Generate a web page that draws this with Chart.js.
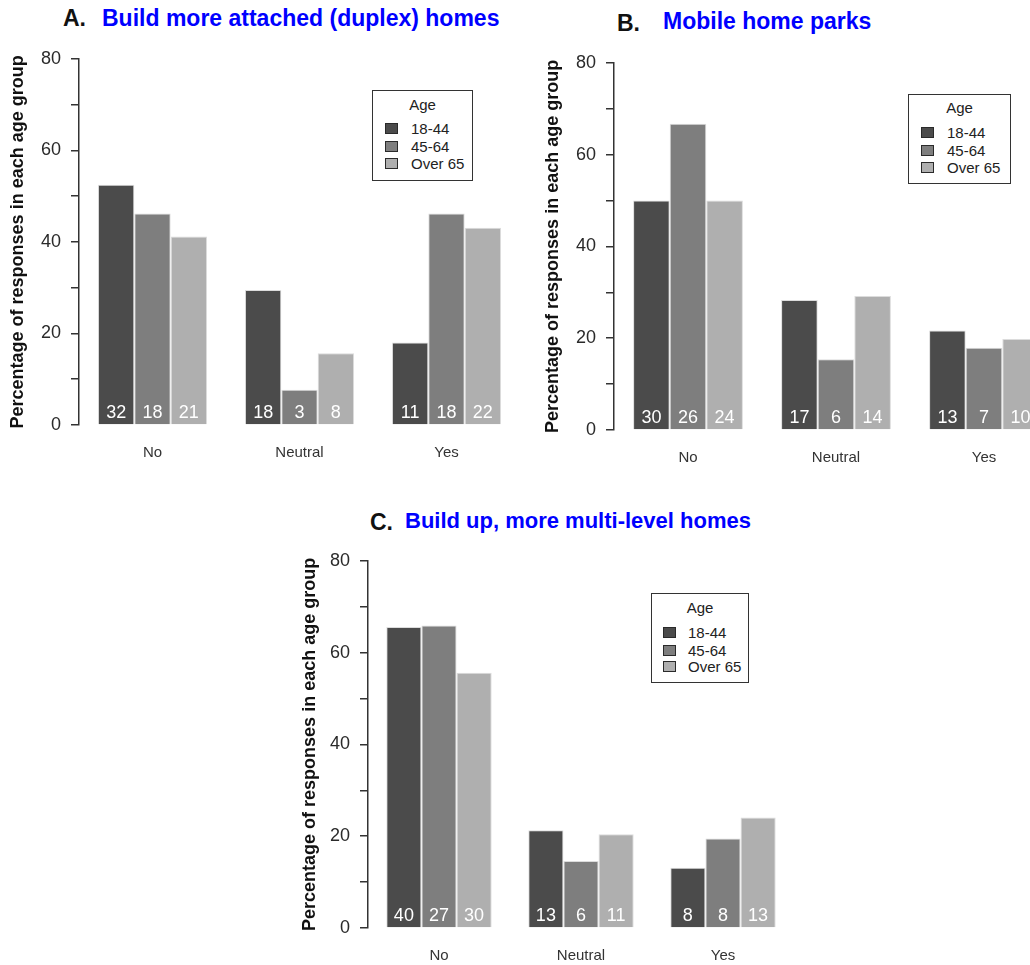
<!DOCTYPE html>
<html>
<head>
<meta charset="utf-8">
<script src="https://cdn.jsdelivr.net/npm/chart.js@4.4.1/dist/chart.umd.min.js"></script>
<style>
html,body{margin:0;padding:0;background:#fff;}
#page{position:relative;width:1030px;height:965px;overflow:hidden;background:#fff;font-family:"Liberation Sans",Arial,Helvetica,sans-serif;}
.ttl{position:absolute;white-space:nowrap;font-weight:bold;line-height:1;}
.lg{position:absolute;border:1.5px solid #333;box-sizing:border-box;background:#fff;color:#222;}
.lg .t{position:absolute;left:0;right:0;text-align:center;font-size:15px;line-height:1;}
.lg .sq{position:absolute;width:13px;height:11px;border:1px solid #2a2a2a;box-sizing:border-box;}
.lg .lb{position:absolute;font-size:15px;line-height:1;white-space:nowrap;}
canvas{position:absolute;}
</style>
</head>
<body>
<div id="page">
  <span class="ttl" style="left:63px;top:7px;font-size:23px;color:#111;">A.</span>
  <span class="ttl" style="left:102px;top:7px;font-size:23px;color:#0000ff;">Build more attached (duplex) homes</span>
  <span class="ttl" style="left:617px;top:12px;font-size:23px;color:#111;">B.</span>
  <span class="ttl" style="left:663px;top:10px;font-size:23px;color:#0000ff;">Mobile home parks</span>
  <span class="ttl" style="left:370px;top:511px;font-size:23px;color:#111;">C.</span>
  <span class="ttl" style="left:405px;top:510px;font-size:22px;color:#0000ff;">Build up, more multi-level homes</span>
  <canvas id="chartA"></canvas>
  <canvas id="chartB"></canvas>
  <canvas id="chartC"></canvas>
</div>
<script>
// ---------- data ----------
const categories = ['No', 'Neutral', 'Yes'];
const ageGroups = ['18-44', '45-64', 'Over 65'];
const yTickLabels = [0, 20, 40, 60, 80];
const yAxisTitle = 'Percentage of responses in each age group';
const legendTitle = 'Age';

// Panel A: Build more attached (duplex) homes (percent of responses)
const pctA_18_44 = [52.5, 29.5, 18.0];
const pctA_45_64 = [46.2, 7.7, 46.2];
const pctA_over65 = [41.2, 15.7, 43.1];
const nA_18_44 = [32, 18, 11];
const nA_45_64 = [18, 3, 18];
const nA_over65 = [21, 8, 22];

// Panel B: Mobile home parks
const pctB_18_44 = [50.0, 28.3, 21.7];
const pctB_45_64 = [66.7, 15.4, 17.9];
const pctB_over65 = [50.0, 29.2, 19.8];
const nB_18_44 = [30, 17, 13];
const nB_45_64 = [26, 6, 7];
const nB_over65 = [24, 14, 10];

// Panel C: Build up, more multi-level homes
const pctC_18_44 = [65.6, 21.3, 13.1];
const pctC_45_64 = [65.9, 14.6, 19.5];
const pctC_over65 = [55.6, 20.4, 24.1];
const nC_18_44 = [40, 13, 8];
const nC_45_64 = [27, 6, 8];
const nC_over65 = [30, 11, 13];

// ---------- styling ----------
const FONT = '"Liberation Sans", Arial, Helvetica, sans-serif';
const barColors = ['#4b4b4b', '#7e7e7e', '#afafaf'];
const Y_W = 71, PAD_TOP = 15, X_H = 45;

const barCounts = {
  id: 'barCounts',
  afterDatasetsDraw(chart, args, opts) {
    const ctx = chart.ctx;
    ctx.save();
    ctx.font = '18px ' + FONT;
    ctx.fillStyle = '#ffffff';
    ctx.textAlign = 'center';
    ctx.textBaseline = 'alphabetic';
    chart.data.datasets.forEach((ds, i) => {
      const meta = chart.getDatasetMeta(i);
      meta.data.forEach((el, j) => {
        ctx.fillText(String(opts.counts[i][j]), el.x, el.base - 6.5);
      });
    });
    ctx.restore();
  }
};

function makeChart(id, series, counts, g) {
  const cv = document.getElementById(id);
  const w = Y_W + g.areaW, h = PAD_TOP + g.areaH + X_H;
  cv.width = w; cv.height = h;
  cv.style.width = w + 'px'; cv.style.height = h + 'px';
  cv.style.left = (g.areaLeft - Y_W) + 'px';
  cv.style.top = (g.areaTop - PAD_TOP) + 'px';
  new Chart(cv, {
    type: 'bar',
    data: {
      labels: categories,
      datasets: series.map((vals, i) => ({
        label: ageGroups[i],
        data: vals,
        backgroundColor: barColors[i],
        borderColor: '#dcdcdc',
        borderWidth: 1,
        barPercentage: 1.0,
        categoryPercentage: 0.742
      }))
    },
    options: {
      responsive: false,
      animation: false,
      devicePixelRatio: 1,
      layout: { padding: { top: PAD_TOP, left: 0, right: 0, bottom: 0 } },
      plugins: {
        legend: { display: false },
        tooltip: { enabled: false },
        barCounts: { counts: counts }
      },
      scales: {
        x: {
          grid: { display: false, drawTicks: false },
          border: { display: false },
          ticks: { color: '#333', font: { family: FONT, size: 15 }, padding: 19 },
          afterFit: s => { s.height = X_H; }
        },
        y: {
          min: 0, max: 80,
          afterFit: s => { s.width = Y_W; },
          afterBuildTicks: s => {
            const t = [];
            for (let v = 0; v <= 80; v += 10) t.push({ value: v });
            s.ticks = t;
          },
          ticks: {
            autoSkip: false,
            callback: v => (yTickLabels.includes(v) ? String(v) : ''),
            color: '#2a2a2a',
            font: { family: FONT, size: 18 },
            padding: 10
          },
          grid: { drawOnChartArea: false, drawTicks: true, tickLength: 8, color: '#333', lineWidth: 1.5 },
          border: { display: true, color: '#333', width: 1.5 },
          title: {
            display: true, text: yAxisTitle, color: '#111',
            font: { family: FONT, size: 18, weight: 'bold' },
            padding: { top: g.titlePad, bottom: 0 }
          }
        }
      }
    },
    plugins: [barCounts]
  });
}

function makeLegend(l) {
  const box = document.createElement('div');
  box.className = 'lg';
  box.style.left = l.left + 'px'; box.style.top = l.top + 'px';
  box.style.width = l.w + 'px'; box.style.height = l.h + 'px';
  const t = document.createElement('div');
  t.className = 't'; t.textContent = legendTitle;
  t.style.top = (l.titleY - 8) + 'px';
  box.appendChild(t);
  ageGroups.forEach((name, i) => {
    const sq = document.createElement('div');
    sq.className = 'sq';
    sq.style.left = l.sqX + 'px';
    sq.style.top = (l.rows[i] - 6) + 'px';
    sq.style.background = barColors[i];
    box.appendChild(sq);
    const lb = document.createElement('div');
    lb.className = 'lb'; lb.textContent = name;
    lb.style.left = l.txtX + 'px';
    lb.style.top = (l.rows[i] - 8) + 'px';
    box.appendChild(lb);
  });
  document.getElementById('page').appendChild(box);
}

makeChart('chartA', [pctA_18_44, pctA_45_64, pctA_over65], [nA_18_44, nA_45_64, nA_over65],
  { areaLeft: 79, areaTop: 53, areaW: 441, areaH: 372, titlePad: -1 });
makeChart('chartB', [pctB_18_44, pctB_45_64, pctB_over65], [nB_18_44, nB_45_64, nB_over65],
  { areaLeft: 614, areaTop: 57, areaW: 444, areaH: 373, titlePad: -1 });
makeChart('chartC', [pctC_18_44, pctC_45_64, pctC_over65], [nC_18_44, nC_45_64, nC_over65],
  { areaLeft: 368, areaTop: 555, areaW: 426, areaH: 373, titlePad: 2 });

makeLegend({ left: 372, top: 90, w: 101, h: 91, titleY: 14, sqX: 12, txtX: 38, rows: [38, 56, 73] });
makeLegend({ left: 908, top: 94, w: 103, h: 90, titleY: 13, sqX: 12, txtX: 38, rows: [38, 56, 73] });
makeLegend({ left: 651, top: 593, w: 98, h: 90, titleY: 14, sqX: 11, txtX: 36, rows: [39, 57, 73] });
</script>
</body>
</html>
